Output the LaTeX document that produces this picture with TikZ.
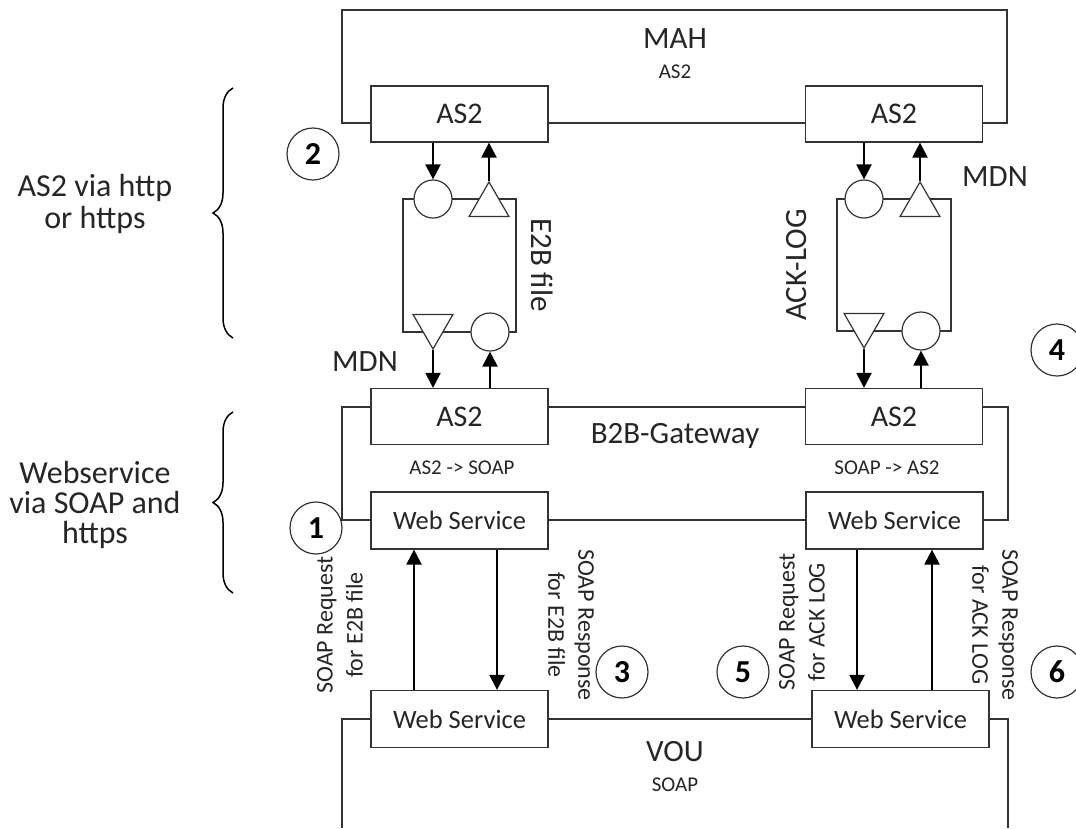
\documentclass[tikz,border=0pt]{standalone}
\usepackage{fontspec}
\setmainfont{Carlito}
\usetikzlibrary{arrows.meta,shapes.geometric,decorations.pathreplacing}

\begin{document}
\begin{tikzpicture}[x=1pt,y=-1pt,
  ink/.style={draw=black!80, line width=1.2pt},
  frame/.style={ink},
  box/.style={ink, fill=white, minimum width=177pt, minimum height=56pt, inner sep=0pt,
    text=black!85, font=\fontsize{30}{36}\selectfont},
  wsbox/.style={box, minimum height=57pt, font=\fontsize{26.5}{31}\selectfont},
  port/.style={ink, circle, fill=white, minimum size=38pt, inner sep=0pt},
  tri/.style={ink, regular polygon, regular polygon sides=3, fill=white, minimum size=46pt, inner sep=0pt},
  flow/.style={line width=2.2pt, -{Triangle[length=15pt,width=15pt]}},
  num/.style={ink, circle, fill=white, minimum size=52pt, inner sep=0pt,
    font=\fontsize{32}{32}\selectfont\bfseries},
  big/.style={text=black!85, font=\fontsize{31}{36}\selectfont, inner sep=0pt},
  small/.style={text=black!85, font=\fontsize{21}{24}\selectfont, inner sep=0pt},
  note/.style={text=black!85, font=\fontsize{24}{30}\selectfont, align=center, inner sep=0pt},
  side/.style={text=black!85, align=center, inner sep=0pt},
  brace/.style={decorate, decoration={brace, amplitude=20pt}, line width=1.5pt}
]
\clip (0,0) rectangle (1076,828);
\fill[white] (0,0) rectangle (1076,828);

% system frames
\draw[frame] (342,10) rectangle (1007,123);
\draw[frame] (342,407) rectangle (1008,520);
\draw[frame] (342,828) |- (1008,719) -- (1008,828);

% system titles
\node[big] (mah) at (675,39) {MAH};
\node[small] (mahp) at (675,72) {AS2};
\node[big] (gw) at (675,436) {B2B-Gateway};
\node[small] (conv1) at (462,468) {AS2 -> SOAP};
\node[small] (conv2) at (887,468) {SOAP -> AS2};
\node[big] (vou) at (675,752) {VOU};
\node[small] (voup) at (675,785) {SOAP};

% AS2 endpoints
\node[box] (mahL) at (459.5,114) {AS2};
\node[box] (mahR) at (894,114) {AS2};
\node[box] (gwL) at (459.5,416.5) {AS2};
\node[box] (gwR) at (894,416.5) {AS2};

% web service endpoints
\node[wsbox] (wsTL) at (459.5,520.5) {Web Service};
\node[wsbox] (wsTR) at (894.5,520.5) {Web Service};
\node[wsbox] (wsBL) at (459.5,719) {Web Service};
\node[wsbox] (wsBR) at (900.5,719) {Web Service};

% AS2 transfer loops
\draw[ink] (403,199) rectangle (516,332);
\node[port] (pTL) at (433,199) {};
\node[tri] (tTL) at (489,205) {};
\node[tri, shape border rotate=180] (tBL) at (433,326) {};
\node[port] (pBL) at (490,332) {};

\draw[ink] (837,199) rectangle (951,331);
\node[port] (pTR) at (864,199) {};
\node[tri] (tTR) at (920,205) {};
\node[tri, shape border rotate=180] (tBR) at (864,325) {};
\node[port] (pBR) at (921,331) {};

% AS2 message flows
\draw[flow] (pTL.north |- mahL.south) -- (pTL.north);
\draw[flow] (tTL.north) -- (tTL.north |- mahL.south);
\draw[flow] (tBL.south) -- (tBL.south |- gwL.north);
\draw[flow] (pBL.south |- gwL.north) -- (pBL.south);

\draw[flow] (pTR.north |- mahR.south) -- (pTR.north);
\draw[flow] (tTR.north) -- (tTR.north |- mahR.south);
\draw[flow] (tBR.south) -- (tBR.south |- gwR.north);
\draw[flow] (pBR.south |- gwR.north) -- (pBR.south);

\node[big, rotate=-90] (e2b) at (542,265) {E2B file};
\node[big, rotate=90] (ack) at (797,265) {ACK-LOG};
\node[big] (mdn1) at (365,362) {MDN};
\node[big] (mdn2) at (995,177) {MDN};

% SOAP flows
\draw[flow] ([xshift=-45.5pt]wsBL.north) -- ([xshift=-45.5pt]wsBL.north |- wsTL.south);
\draw[flow] ([xshift=37.5pt]wsTL.south) -- ([xshift=37.5pt]wsTL.south |- wsBL.north);
\draw[flow] ([xshift=-37.5pt]wsTR.south) -- ([xshift=-37.5pt]wsTR.south |- wsBR.north);
\draw[flow] ([xshift=37.5pt]wsTR.south |- wsBR.north) -- ([xshift=37.5pt]wsTR.south);

\node[note, rotate=90] (reqE) at (340,625) {SOAP Request\\for E2B file};
\node[note, rotate=-90] (resE) at (571,625) {SOAP Response\\for E2B file};
\node[note, rotate=90] (reqA) at (802,622) {SOAP Request\\for ACK LOG};
\node[note, rotate=-90] (resA) at (995,625) {SOAP Response\\for ACK LOG};

% step numbers
\node[num] (n1) at (316,528) {1};
\node[num] (n2) at (313,154) {2};
\node[num] (n3) at (622,672) {3};
\node[num] (n4) at (1057,350) {4};
\node[num] (n5) at (743,672) {5};
\node[num] (n6) at (1057,672) {6};

% protocol layers
\coordinate (b1top) at (233,88);
\coordinate (b1bot) at (233,338);
\coordinate (b2top) at (233,412);
\coordinate (b2bot) at (233,593);
\draw[brace] (b1bot) -- (b1top);
\draw[brace] (b2bot) -- (b2top);
\node[side, font=\fontsize{32}{32}\selectfont] (lay1) at (95,204) {AS2 via http\\or https};
\node[side, font=\fontsize{32}{30}\selectfont] (lay2) at (95,505) {Webservice\\via SOAP and\\https};
\end{tikzpicture}
\end{document}
